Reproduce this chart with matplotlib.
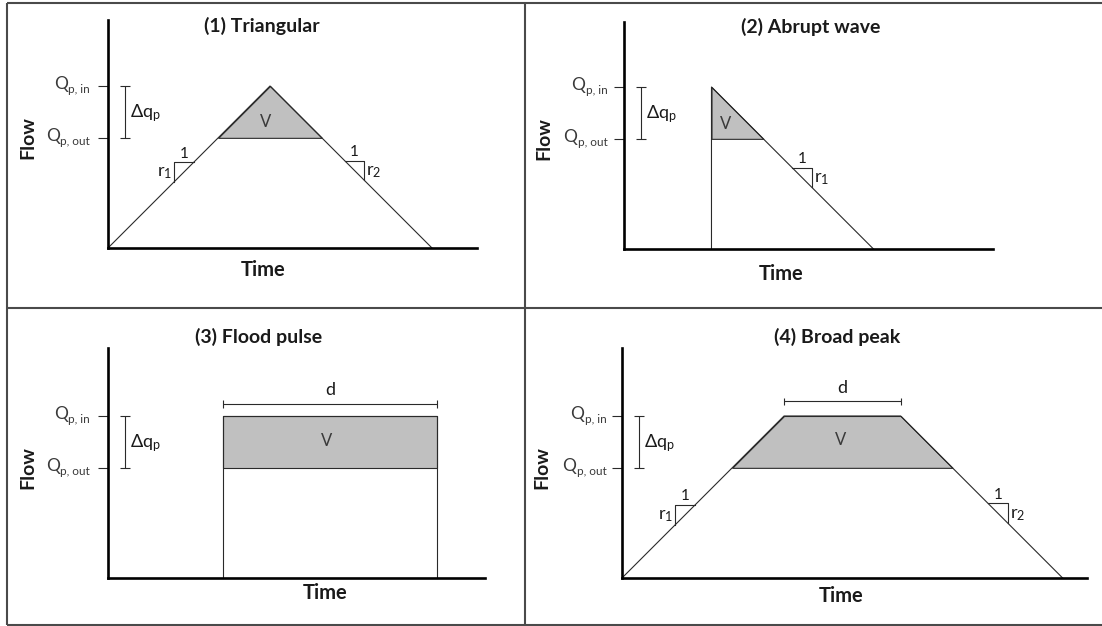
import numpy as np
import matplotlib
matplotlib.use('Agg')
import matplotlib.pyplot as plt

plt.rcParams['font.family'] = ['Lato', 'DejaVu Sans']
plt.rcParams['mathtext.fontset'] = 'custom'
plt.rcParams['mathtext.rm'] = 'Lato'
plt.rcParams['mathtext.it'] = 'Lato:italic'
plt.rcParams['mathtext.bf'] = 'Lato:bold'

# flow levels (arbitrary units), same in all four sketches
q_in = 10.0
q_out = 6.8

titles = ['(1) Triangular', '(2) Abrupt wave', '(3) Flood pulse', '(4) Broad peak']
level_subs = ['p, out', 'p, in']   # subscripts of the Q labels at q_out, q_in

# hydrograph vertices (time, flow)
tri_t = [0, 10, 20]
tri_q = [0, 10, 0]
abrupt_t = [5.4, 5.4, 15.4]
abrupt_q = [0, 10, 0]
pulse_t = [7.1, 7.1, 20.3, 20.3]
pulse_q = [0, 10, 10, 0]
broad_t = [0, 10, 17.2, 27.2]
broad_q = [0, 10, 10, 0]

# duration brackets (start, end)
pulse_d = (7.1, 20.3)
broad_d = (10, 17.2)

# slope marks: (start time on the limb, rising limb?, index of r)
tri_slopes = [(4.1, True, 1), (14.6, False, 2)]
abrupt_slopes = [(10.4, False, 1)]
broad_slopes = [(3.3, True, 1), (22.6, False, 2)]

W, H = 1102, 626
PX = 16.2  # pixels per data unit
LINE = '#2a2a2a'
TEXT = '#1a1a1a'
GREY = '#3a3a3a'

panels = [
    dict(origin=(108, 248), tmax=22.8, qmax=14.1, t=tri_t, q=tri_q, slopes=tri_slopes,
         d=None, v=(9.75, 7.8), title=(9.5, 13.7), time=(9.6, -1.36), lab_x=-1.1),
    dict(origin=(624, 249), tmax=22.8, qmax=14.0, t=abrupt_t, q=abrupt_q, slopes=abrupt_slopes,
         d=None, v=(6.3, 7.7), title=(11.5, 13.7), time=(9.7, -1.54), lab_x=-1.0),
    dict(origin=(108, 578), tmax=23.3, qmax=14.2, t=pulse_t, q=pulse_q, slopes=[],
         d=(pulse_d, 10.74), v=(13.5, 8.45), title=(9.3, 14.9), time=(13.4, -0.93), lab_x=-1.1),
    dict(origin=(622, 578), tmax=28.7, qmax=14.2, t=broad_t, q=broad_q, slopes=broad_slopes,
         d=(broad_d, 10.9), v=(13.5, 8.5), title=(13.3, 14.9), time=(13.5, -1.1), lab_x=-0.95),
]


def slope_mark(ax, t, q, t0, rising, idx, s=1.2):
    q0 = np.interp(t0, t, q)
    if rising:
        ax.plot([t0, t0, t0 + s], [q0, q0 + s, q0 + s], color=LINE, lw=0.8)
        ax.text(t0 + s / 2, q0 + s + 0.1, '1', ha='center', va='bottom', fontsize=11, color=TEXT)
        ax.text(t0 - 0.12, q0 + s / 2 - 0.1, r'$\mathrm{r_%d}$' % idx, ha='right', va='center',
                fontsize=13, color=TEXT)
    else:
        ax.plot([t0, t0 + s, t0 + s], [q0, q0, q0 - s], color=LINE, lw=0.8)
        ax.text(t0 + s / 2, q0 + 0.1, '1', ha='center', va='bottom', fontsize=11, color=TEXT)
        ax.text(t0 + s + 0.15, q0 - s / 2 - 0.1, r'$\mathrm{r_%d}$' % idx, ha='left', va='center',
                fontsize=13, color=TEXT)


fig = plt.figure(figsize=(W / 100, H / 100), dpi=100)

# frame around the four sketches
bg = fig.add_axes([0, 0, 1, 1], zorder=-1)
bg.set_xlim(0, W)
bg.set_ylim(H, 0)
bg.axis('off')
bg.hlines([3, 308, 624.5], 7, W, color='#4a4a4a', lw=1.5)
bg.vlines([7, 525], 3, 624.5, color='#4a4a4a', lw=1.5)

for p, title in zip(panels, titles):
    ox, oy = p['origin']
    ax = fig.add_axes([ox / W, 1 - oy / H, p['tmax'] * PX / W, p['qmax'] * PX / H])
    ax.set_xlim(0, p['tmax'])
    ax.set_ylim(0, p['qmax'])
    ax.patch.set_alpha(0)
    for side in ['top', 'right']:
        ax.spines[side].set_visible(False)
    for side in ['left', 'bottom']:
        ax.spines[side].set_linewidth(1.9)
        ax.spines[side].set_color('black')
    ax.set_xticks([])
    ax.set_yticks([q_out, q_in], labels=['', ''])
    ax.tick_params(axis='y', direction='out', length=7, width=0.8, colors=LINE)

    # Q labels: large Q with small subscript, right aligned next to the ticks
    for level, sub in zip([q_out, q_in], level_subs):
        s = ax.text(p['lab_x'], level - 0.45, sub, ha='right', va='baseline',
                    fontsize=8.5, color=GREY)
        ax.annotate('Q', xy=(0, 0), xycoords=s, xytext=(-0.5, 4.3),
                    textcoords='offset points', ha='right', va='baseline',
                    fontsize=12.5, color=GREY)

    t = np.array(p['t'], dtype=float)
    q = np.array(p['q'], dtype=float)
    ax.fill_between(t, q_out, q, where=q >= q_out, interpolate=True,
                    facecolor='#c0c0c0', edgecolor=LINE, lw=0.8)
    ax.plot(t, q, color=LINE, lw=0.8, clip_on=False)

    # delta q bracket
    bx = 1.05
    ax.vlines(bx, q_out, q_in, color=LINE, lw=0.8)
    ax.hlines([q_out, q_in], bx - 0.33, bx + 0.33, color=LINE, lw=0.8)
    ax.text(bx + 0.32, 8.05, r'$\mathrm{\Delta q_p}$', fontsize=13, ha='left',
            va='baseline', color=TEXT)

    if p['d'] is not None:
        (d0, d1), dy = p['d']
        ax.hlines(dy, d0, d1, color=LINE, lw=0.8)
        ax.vlines([d0, d1], dy - 0.22, dy + 0.22, color=LINE, lw=0.8)
        ax.text((d0 + d1) / 2, dy + 0.35, 'd', ha='center', va='bottom', fontsize=13, color=TEXT)

    for t0, rising, idx in p['slopes']:
        slope_mark(ax, t, q, t0, rising, idx)

    ax.text(*p['v'], 'V', ha='center', va='center', fontsize=12, color=GREY)
    ax.text(*p['title'], title, ha='center', va='center', fontsize=14, fontweight='bold',
            color=TEXT)
    ax.set_xlabel('Time', fontsize=14.5, fontweight='bold', color=TEXT)
    ax.xaxis.set_label_coords(*p['time'], transform=ax.transData)
    ax.xaxis.label.set_va('center')
    ax.set_ylabel('Flow', fontsize=14, fontweight='bold', color=TEXT)
    ax.yaxis.set_label_coords(-4.95, 6.8, transform=ax.transData)
    ax.yaxis.label.set_va('center')

fig.savefig('out.png', dpi=100)
